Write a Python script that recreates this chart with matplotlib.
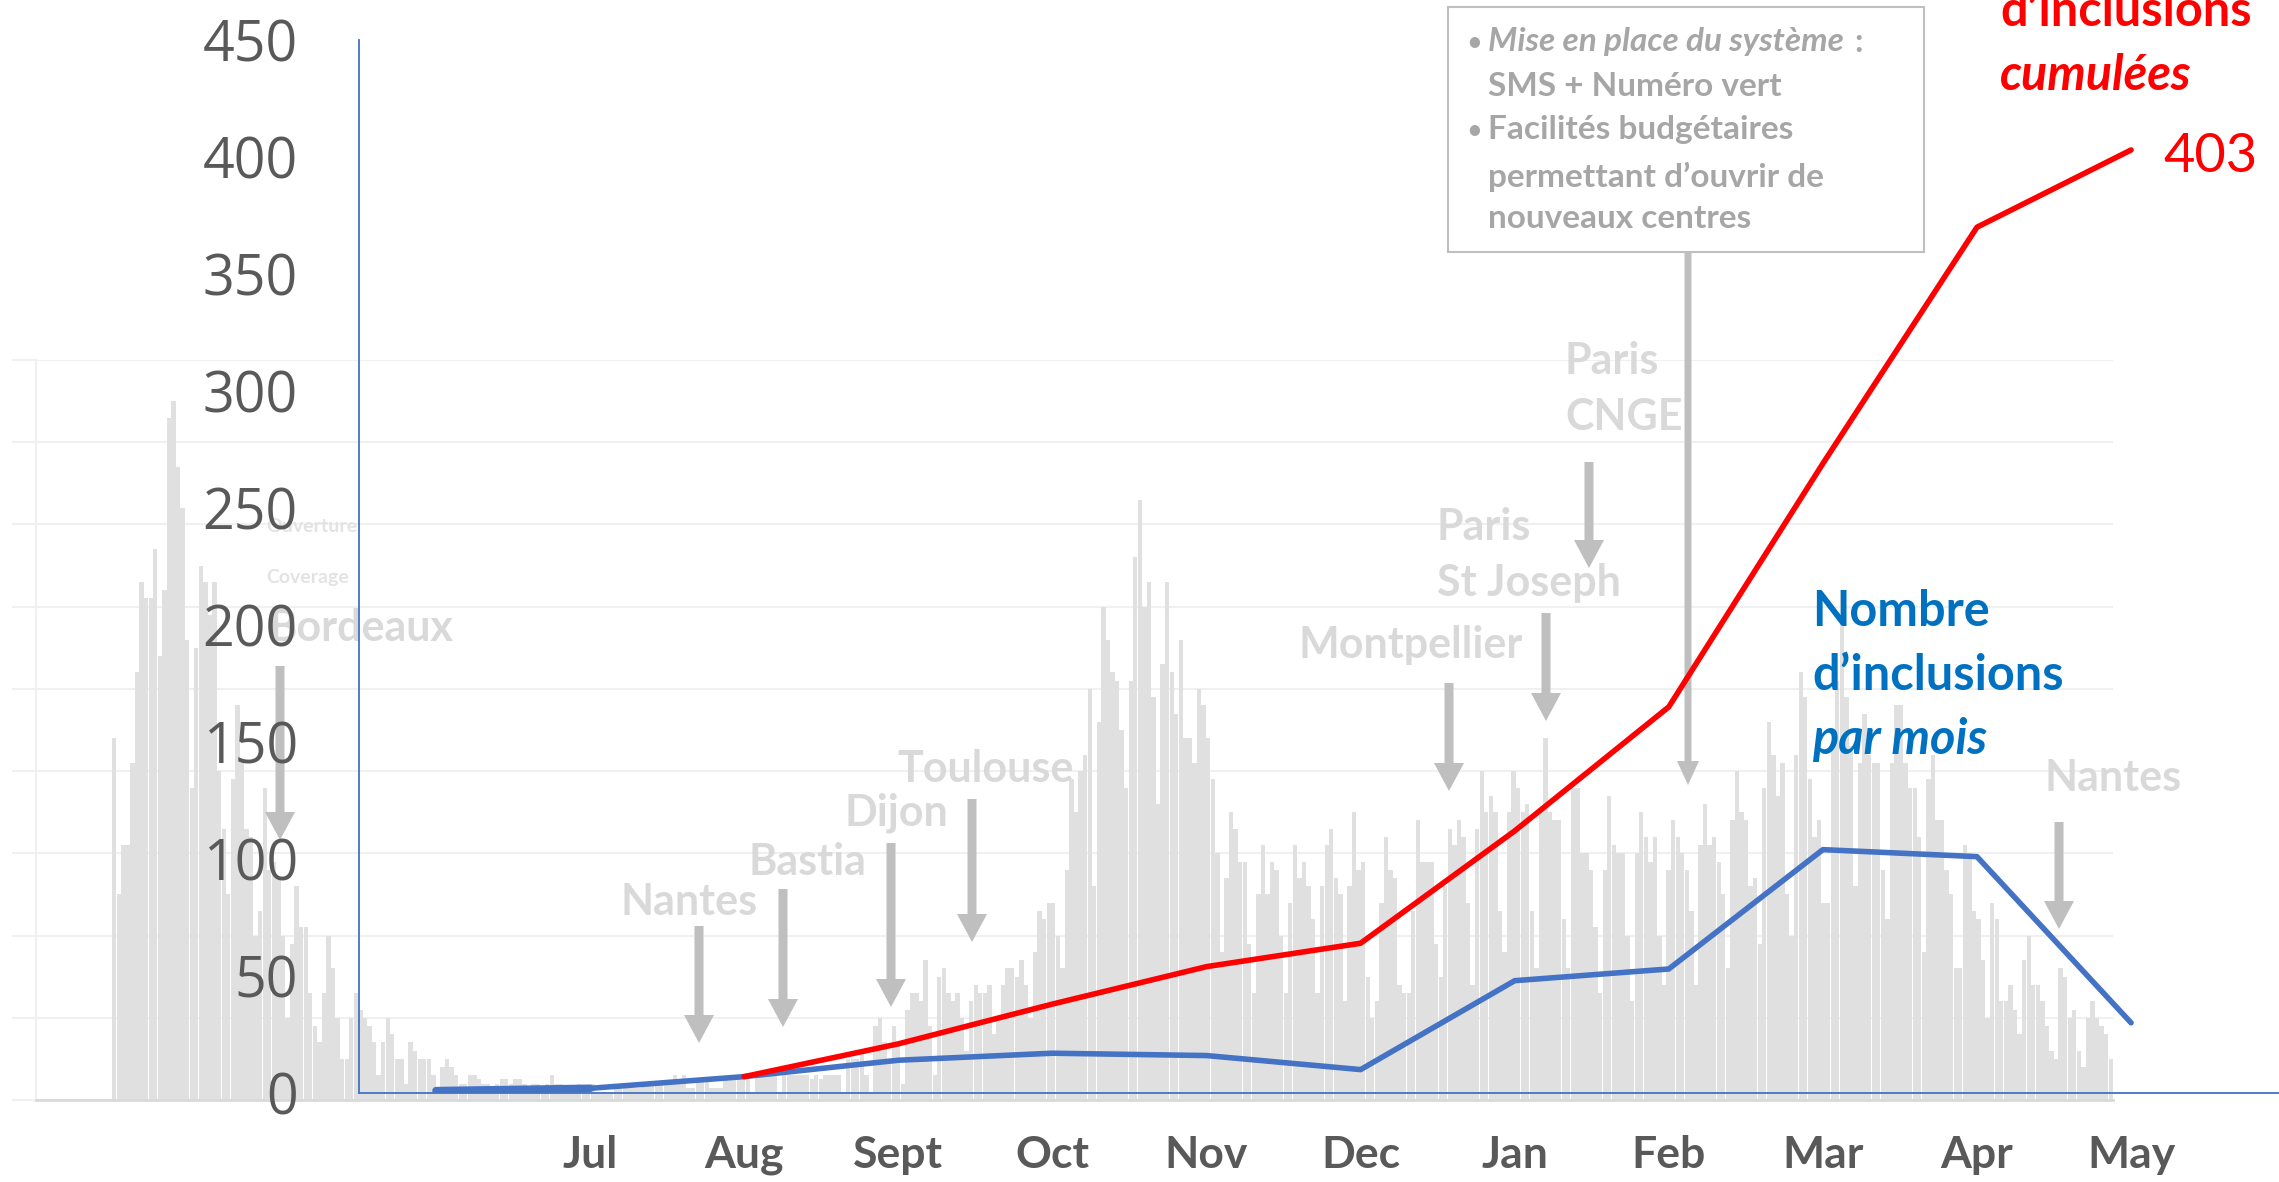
import numpy as np
import matplotlib.pyplot as plt
from matplotlib.patches import FancyArrow, Rectangle

plt.rcParams['font.family'] = ['Lato', 'DejaVu Sans']

# Monthly curves (foreground)
months = ['', 'Jul', 'Aug', 'Sept', 'Oct', 'Nov', 'Dec', 'Jan', 'Feb', 'Mar', 'Apr', 'May']
inclusions_mois = [1, 2, 7, 14, 17, 16, 10, 48, 53, 104, 101, 30]
inclusions_cumulees = [7, 21, 38, 54, 64, 112, 165, 269, 370, 403]  # from Aug

# Daily counts (background picture), read segment by segment
daily_spring = [44, 25, 31, 31, 41, 52, 63, 61, 61, 67, 54, 62, 83, 85, 77, 72, 56, 38, 55, 65,
                63, 59, 63, 40, 33, 25, 39, 48, 41, 33, 32, 20, 23, 38, 28, 29, 27, 20, 10, 19,
                26, 21, 21, 13, 9, 7, 13, 20, 16, 10, 5, 5, 10, 13, 11, 10, 9, 7, 3, 7,
                10, 8, 5, 5, 2, 7, 6, 5, 5, 5, 3, 1, 4, 5, 4, 3, 2, 2]
daily_summer = [3, 3, 2.5, 2, 2, 1, 2, 2.5, 2.5, 2, 2.5, 2.5, 2, 1.5, 2, 2, 1, 2, 3, 2,
                2, 1, 1, 1, 2, 1, 1, 2, 1, 1, 1, 1, 2, 2, 2, 1.5, 1.5, 1.5, 2, 2,
                2, 2, 2, 2, 2, 3, 2, 3, 1.5, 1.5, 2.5, 2.5, 2.5, 1.5, 1.5, 1.5, 2.5, 2.5, 2.5, 2.5,
                2.5, 2.5, 1, 3, 3, 3, 3, 3, 1, 3, 3, 3, 3, 3, 3, 2.5, 3, 2.5, 3, 3]
daily_autumn = [3, 3, 1, 5, 5, 5, 6, 3, 1, 9, 10, 7, 5, 9, 7, 2, 11, 13, 13, 12,
                17, 9, 3, 15, 16, 13, 12, 13, 10, 6, 12, 14, 13, 13, 14, 8, 10, 14, 16, 16,
                15, 17, 14, 10, 18, 23, 22, 24, 24, 20, 16, 28, 39, 35, 40, 42, 50, 26, 46, 60,
                56, 52, 51, 45, 38, 51, 66, 73, 60, 63, 49, 36, 53, 63, 52, 47, 56, 44, 44, 41,
                50, 48, 44]
daily_winter = [39, 30, 18, 27, 35, 33, 29, 29, 19, 13, 25, 31, 25, 29, 28, 20, 13, 24, 31, 27,
                29, 26, 22, 13, 26, 31, 33, 27, 25, 12, 26, 35, 28, 29, 15, 10, 12, 24, 32, 28,
                27, 14, 13, 13, 23, 34, 29, 29, 29, 19, 15, 26, 33, 31, 34, 32, 24, 14, 33, 40,
                35, 37, 35, 23, 18, 35, 40, 38, 35, 36, 23, 16, 35, 44, 35, 34, 34, 22, 16, 38, 38]
daily_late = [30, 30, 28, 21, 13, 28, 37, 31, 30, 30, 20, 12, 30, 35, 32, 29, 32, 20, 14, 28,
              34, 32, 30, 28, 23, 14, 31, 36, 31, 32, 29, 25, 16, 34, 40, 35, 34, 26, 27, 19,
              38, 46, 42, 37, 41, 25, 20, 42, 52, 49, 39, 32, 34, 24, 24, 43, 51, 62, 49, 43,
              26, 41, 47, 42, 41, 41, 28, 22, 41, 48, 48, 41, 38, 38, 32, 18, 39, 42, 34, 34,
              28, 25, 16]
daily_end = [16, 31, 30, 23, 22, 17, 10, 24, 22, 12, 12, 14, 11, 8, 17, 20, 14, 14, 12, 9,
             6, 5, 16, 15, 10, 11, 6, 4, 10, 12, 10, 9, 8, 5]

# Annotations: label, label position (px), arrow x, arrow top, arrow tip
centres = [
    ('Bordeaux', 268, 628, 280, 666, 840),
    ('Nantes', 621, 902, 699, 926, 1043),
    ('Bastia', 748, 862, 783, 889, 1027),
    ('Dijon', 844, 813, 891, 843, 1007),
    ('Toulouse', 897, 769, 972, 799, 942),
    ('Montpellier', 1298, 645, 1449, 683, 791),
    ('Paris\nSt Joseph', 1437, 555, 1546, 613, 721),
    ('Paris\nCNGE', 1565, 389, 1589, 462, 568),
    ('Nantes', 2045, 778, 2059, 822, 929),
]

W, H = 2279, 1182
GREY_TXT = '#d9d9d9'
GREY_ARR = '#bfbfbf'
AXIS_TXT = '#595959'


def fx(x):
    return x / W


def fy(y):
    return 1 - y / H


def inch(x, y):
    # pixel (y downwards) -> inches for dpi_scale_trans
    return x / 100, (H - y) / 100


def down_arrow(x, y0, y1, shaft=9, head=30, hlen=28, z=0.5):
    x0, yy0 = inch(x, y0)
    arr = FancyArrow(x0, yy0, 0, -(y1 - y0) / 100, width=shaft / 100, head_width=head / 100,
                     head_length=hlen / 100, length_includes_head=True, color=GREY_ARR,
                     linewidth=0, transform=fig.dpi_scale_trans, zorder=z)
    fig.add_artist(arr)


fig = plt.figure(figsize=(W / 100, H / 100), dpi=100)

# -- Background: daily counts --
daily = np.concatenate([daily_spring, daily_summer, daily_autumn, daily_winter, daily_late, daily_end])
n = len(daily)
pitch = (2113 - 112) / n
ax_bg = fig.add_axes([fx(36), fy(1100), fx(2113) - fx(36), fy(360) - fy(1100)], zorder=0)
ax_bg.bar(np.arange(n), daily, width=0.95, color='#e0e0e0', linewidth=0)
ax_bg.set_xlim(-0.5 - (112 - 36) / pitch, n - 0.5)
ax_bg.set_ylim(0, 90)
ax_bg.set_yticks(np.arange(0, 91, 10))
ax_bg.grid(axis='y', color='#f0f0f0', lw=1.5)
ax_bg.set_axisbelow(True)
ax_bg.tick_params(axis='y', length=17, width=1.5, color='#f0f0f0', labelleft=False)
ax_bg.tick_params(axis='x', length=0, labelbottom=False)
for s in ['top', 'right']:
    ax_bg.spines[s].set_visible(False)
ax_bg.spines['left'].set_color('#f0f0f0')
ax_bg.spines['left'].set_linewidth(1.5)
ax_bg.spines['bottom'].set_color('#d9d9d9')
ax_bg.spines['bottom'].set_linewidth(2)

# small faded texts of the background picture
fig.text(*inch(266, 526), 'Ouverture', transform=fig.dpi_scale_trans, fontsize=14,
         fontweight='bold', color='#e3e3e3', va='center', zorder=0.5)
fig.text(*inch(266, 577), 'Coverage', transform=fig.dpi_scale_trans, fontsize=14,
         fontweight='bold', color='#e3e3e3', va='center', zorder=0.5)

# -- Centre openings --
for label, lx, ly, ax_x, a0, a1 in centres:
    fig.text(*inch(lx, ly), label, transform=fig.dpi_scale_trans, fontsize=31,
             fontweight='bold', color=GREY_TXT, va='center', ha='left',
             linespacing=1.5, zorder=0.5)
    down_arrow(ax_x, a0, a1)

# arrow from the text box
down_arrow(1688, 252, 785, shaft=7, head=22, hlen=24)

# -- Foreground: monthly inclusions --
ax = fig.add_axes([fx(359), fy(1093), 1 - fx(359), fy(40) - fy(1093)], zorder=1)
ax.patch.set_visible(False)
x = np.arange(len(months))
ax.plot(x, inclusions_mois, color='#4472c4', lw=4, solid_capstyle='round')
ax.plot(x[:2], inclusions_mois[:2], color='#4472c4', lw=5.5, solid_capstyle='round')
ax.plot(x[2:], inclusions_cumulees, color='#ff0000', lw=4, solid_capstyle='round')

ax.set_xlim(-0.5, 11.96)
ax.set_ylim(0, 450)
ax.set_yticks(np.arange(0, 451, 50))
ax.set_xticks(x)
ax.set_xticklabels(months)
ax.tick_params(axis='y', length=0, pad=44, labelsize=40, labelcolor=AXIS_TXT)
ax.tick_params(axis='x', length=0, pad=30, labelsize=32, labelcolor=AXIS_TXT)
for t in ax.get_yticklabels():
    t.set_fontfamily(['Open Sans', 'DejaVu Sans'])
for t in ax.get_xticklabels():
    t.set_fontweight('bold')
for s in ['top', 'right']:
    ax.spines[s].set_visible(False)
for s in ['left', 'bottom']:
    ax.spines[s].set_color('#4472c4')
    ax.spines[s].set_linewidth(1.3)

# series labels
lab_kw = dict(transform=fig.dpi_scale_trans, fontsize=35, fontweight='bold', va='center', zorder=3)
fig.text(*inch(1812, 612), 'Nombre', color='#0070c0', **lab_kw)
fig.text(*inch(1812, 676), 'd\u2019inclusions', color='#0070c0', **lab_kw)
fig.text(*inch(1812, 740), 'par mois', fontstyle='italic', color='#0070c0', **lab_kw)

fig.text(*inch(2000, 12), 'd\u2019inclusions', color='#ff0000', **lab_kw)
fig.text(*inch(2000, 76), 'cumul\u00e9es', fontstyle='italic', color='#ff0000', **lab_kw)
fig.text(*inch(2163, 157), str(inclusions_cumulees[-1]), transform=fig.dpi_scale_trans,
         fontsize=39, color='#ff0000', va='center', zorder=3)

# -- Text box --
bx, by = inch(1448, 252)
fig.add_artist(Rectangle((bx, by), 4.76, 2.45, transform=fig.dpi_scale_trans,
                         facecolor='white', edgecolor='#bfbfbf', linewidth=1.5, zorder=2))
box_kw = dict(transform=fig.dpi_scale_trans, fontsize=24, fontweight='bold',
              color='#a6a6a6', va='center', zorder=3)
fig.text(*inch(1467, 42), '\u2022', **dict(box_kw, fontsize=17))
mise = fig.text(*inch(1488, 42), 'Mise en place du syst\u00e8me', fontstyle='italic', **box_kw)
fig.text(*inch(1488, 87), 'SMS + Num\u00e9ro vert', **box_kw)
fig.text(*inch(1467, 130), '\u2022', **dict(box_kw, fontsize=17))
fig.text(*inch(1488, 130), 'Facilit\u00e9s budg\u00e9taires', **box_kw)
fig.text(*inch(1488, 177), 'permettant d\u2019ouvrir de', **box_kw)
fig.text(*inch(1488, 218), 'nouveaux centres', **box_kw)

# colon placed just after the italic part
fig.canvas.draw()
x_end = mise.get_window_extent().x1
fig.text(x_end / 100 + 0.10, inch(0, 42)[1], ':', **box_kw)

fig.savefig('out.png', dpi=100)
